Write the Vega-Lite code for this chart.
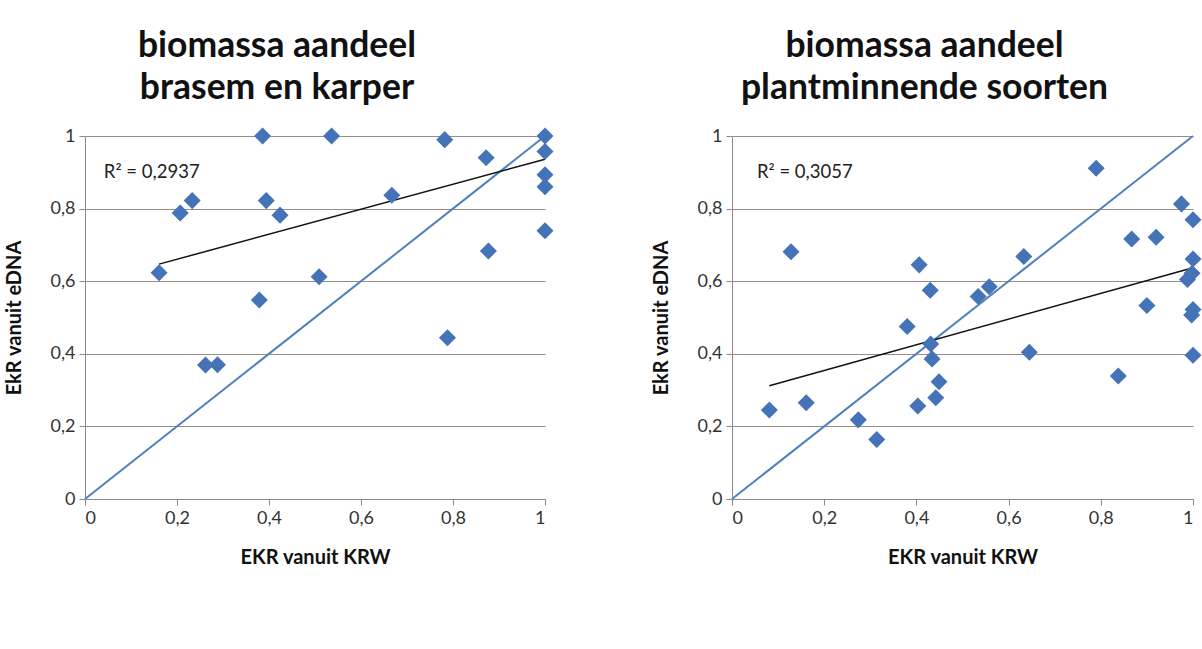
{
  "$schema": "https://vega.github.io/schema/vega-lite/v6.json",
  "background": "white",
  "padding": {"left": 4, "top": 28, "right": 0, "bottom": 0},
  "spacing": 97,
  "config": {
    "view": {"stroke": null},
    "font": "Lato",
    "axis": {
      "labelFont": "Lato",
      "labelFontSize": 18,
      "labelColor": "#333333",
      "titleFont": "Lato",
      "titleFontSize": 20,
      "titleFontWeight": "bold",
      "titleColor": "#111111",
      "domainColor": "#8a8a8a",
      "tickColor": "#8a8a8a",
      "tickSize": 6,
      "labelPadding": 4,
      "gridColor": "#9a8a86",
      "gridOpacity": 1,
      "gridWidth": 1
    },
    "title": {
      "font": "Lato",
      "fontSize": 35.5,
      "fontWeight": "bold",
      "color": "#111111",
      "lineHeight": 42,
      "anchor": "middle",
      "dx": -38,
      "offset": 21
    }
  },
  "datasets": {
    "diag": [{"x": 0, "y": 0}, {"x": 1, "y": 1}],
    "leftPts": [
      {"krw": 0.161, "edna": 0.623},
      {"krw": 0.207, "edna": 0.788},
      {"krw": 0.233, "edna": 0.822},
      {"krw": 0.262, "edna": 0.369},
      {"krw": 0.288, "edna": 0.370},
      {"krw": 0.379, "edna": 0.548},
      {"krw": 0.386, "edna": 1.0},
      {"krw": 0.394, "edna": 0.822},
      {"krw": 0.424, "edna": 0.782},
      {"krw": 0.509, "edna": 0.612},
      {"krw": 0.536, "edna": 1.0},
      {"krw": 0.667, "edna": 0.837},
      {"krw": 0.782, "edna": 0.990},
      {"krw": 0.788, "edna": 0.444},
      {"krw": 0.872, "edna": 0.940},
      {"krw": 0.877, "edna": 0.683},
      {"krw": 1.0, "edna": 1.0},
      {"krw": 1.0, "edna": 0.957},
      {"krw": 1.0, "edna": 0.893},
      {"krw": 1.0, "edna": 0.860},
      {"krw": 1.0, "edna": 0.739}
    ],
    "leftTrend": [{"x": 0.161, "y": 0.647}, {"x": 1.0, "y": 0.936}],
    "leftLabel": [{"x": 0.041, "y": 0.9, "label": "R² = 0,2937"}],
    "rightPts": [
      {"krw": 0.081, "edna": 0.245},
      {"krw": 0.128, "edna": 0.681},
      {"krw": 0.161, "edna": 0.265},
      {"krw": 0.274, "edna": 0.218},
      {"krw": 0.314, "edna": 0.164},
      {"krw": 0.380, "edna": 0.475},
      {"krw": 0.403, "edna": 0.256},
      {"krw": 0.406, "edna": 0.645},
      {"krw": 0.430, "edna": 0.575},
      {"krw": 0.431, "edna": 0.427},
      {"krw": 0.434, "edna": 0.386},
      {"krw": 0.442, "edna": 0.279},
      {"krw": 0.449, "edna": 0.323},
      {"krw": 0.534, "edna": 0.558},
      {"krw": 0.558, "edna": 0.585},
      {"krw": 0.633, "edna": 0.668},
      {"krw": 0.645, "edna": 0.404},
      {"krw": 0.790, "edna": 0.911},
      {"krw": 0.838, "edna": 0.339},
      {"krw": 0.867, "edna": 0.716},
      {"krw": 0.900, "edna": 0.533},
      {"krw": 0.920, "edna": 0.721},
      {"krw": 0.975, "edna": 0.813},
      {"krw": 0.988, "edna": 0.605},
      {"krw": 0.997, "edna": 0.507},
      {"krw": 0.998, "edna": 0.622},
      {"krw": 1.0, "edna": 0.769},
      {"krw": 1.0, "edna": 0.661},
      {"krw": 1.0, "edna": 0.522},
      {"krw": 1.0, "edna": 0.396}
    ],
    "rightTrend": [{"x": 0.081, "y": 0.312}, {"x": 1.0, "y": 0.637}],
    "rightLabel": [{"x": 0.054, "y": 0.9, "label": "R² = 0,3057"}]
  },
  "hconcat": [
    {
      "width": 460,
      "height": 363,
      "title": {"text": ["biomassa aandeel", "brasem en karper"]},
      "layer": [
        {
          "data": {"name": "diag"},
          "mark": {"type": "line", "color": "#4f81bd", "strokeWidth": 2},
          "encoding": {
            "x": {"field": "x", "type": "quantitative", "scale": {"domain": [0, 1], "nice": false},
                  "axis": {"title": "EKR vanuit KRW", "values": [0, 0.2, 0.4, 0.6, 0.8, 1], "grid": false, "labelExpr": "replace(format(datum.value, '.1~f'), '.', ',')", "titlePadding": 20}},
            "y": {"field": "y", "type": "quantitative", "scale": {"domain": [0, 1], "nice": false},
                  "axis": {"title": "EkR vanuit eDNA", "values": [0, 0.2, 0.4, 0.6, 0.8, 1], "grid": true, "labelExpr": "replace(format(datum.value, '.1~f'), '.', ',')", "titlePadding": 26}}
          }
        },
        {
          "data": {"name": "leftTrend"},
          "mark": {"type": "line", "color": "#111111", "strokeWidth": 1.5},
          "encoding": {
            "x": {"field": "x", "type": "quantitative"},
            "y": {"field": "y", "type": "quantitative"}
          }
        },
        {
          "data": {"name": "leftPts"},
          "mark": {"type": "point", "shape": "diamond", "filled": true, "size": 290, "color": "#4473b8", "opacity": 1},
          "encoding": {
            "x": {"field": "krw", "type": "quantitative"},
            "y": {"field": "edna", "type": "quantitative"}
          }
        },
        {
          "data": {"name": "leftLabel"},
          "mark": {"type": "text", "align": "left", "baseline": "middle", "fontSize": 18.5, "font": "Lato", "color": "#222222"},
          "encoding": {
            "x": {"field": "x", "type": "quantitative"},
            "y": {"field": "y", "type": "quantitative"},
            "text": {"field": "label"}
          }
        }
      ]
    },
    {
      "width": 461,
      "height": 363,
      "title": {"text": ["biomassa aandeel", "plantminnende soorten"]},
      "layer": [
        {
          "data": {"name": "diag"},
          "mark": {"type": "line", "color": "#4f81bd", "strokeWidth": 2},
          "encoding": {
            "x": {"field": "x", "type": "quantitative", "scale": {"domain": [0, 1], "nice": false},
                  "axis": {"title": "EKR vanuit KRW", "values": [0, 0.2, 0.4, 0.6, 0.8, 1], "grid": false, "labelExpr": "replace(format(datum.value, '.1~f'), '.', ',')", "titlePadding": 20}},
            "y": {"field": "y", "type": "quantitative", "scale": {"domain": [0, 1], "nice": false},
                  "axis": {"title": "EkR vanuit eDNA", "values": [0, 0.2, 0.4, 0.6, 0.8, 1], "grid": true, "labelExpr": "replace(format(datum.value, '.1~f'), '.', ',')", "titlePadding": 26}}
          }
        },
        {
          "data": {"name": "rightTrend"},
          "mark": {"type": "line", "color": "#111111", "strokeWidth": 1.5},
          "encoding": {
            "x": {"field": "x", "type": "quantitative"},
            "y": {"field": "y", "type": "quantitative"}
          }
        },
        {
          "data": {"name": "rightPts"},
          "mark": {"type": "point", "shape": "diamond", "filled": true, "size": 290, "color": "#4473b8", "opacity": 1},
          "encoding": {
            "x": {"field": "krw", "type": "quantitative"},
            "y": {"field": "edna", "type": "quantitative"}
          }
        },
        {
          "data": {"name": "rightLabel"},
          "mark": {"type": "text", "align": "left", "baseline": "middle", "fontSize": 18.5, "font": "Lato", "color": "#222222"},
          "encoding": {
            "x": {"field": "x", "type": "quantitative"},
            "y": {"field": "y", "type": "quantitative"},
            "text": {"field": "label"}
          }
        }
      ]
    }
  ]
}
